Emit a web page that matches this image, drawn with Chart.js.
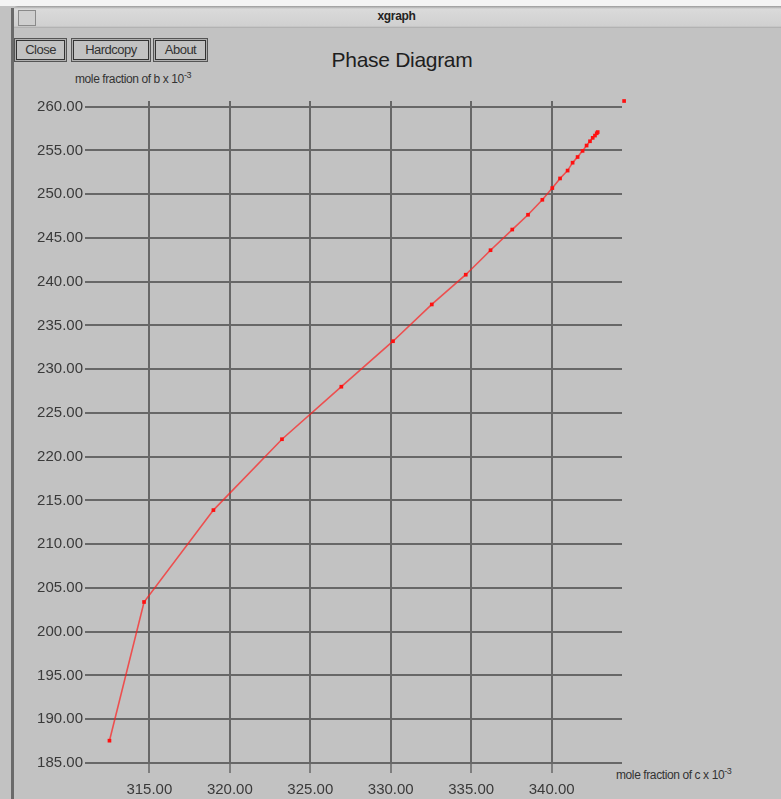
<!DOCTYPE html>
<html>
<head>
<meta charset="utf-8">
<script src="https://cdn.jsdelivr.net/npm/chart.js@4.4.1/dist/chart.umd.min.js"></script>
<style>
  html, body { margin: 0; padding: 0; background: #ffffff; }
  #win {
    position: absolute; left: 0; top: 0; width: 781px; height: 799px;
    background: #c2c2c2; overflow: hidden;
    font-family: "Liberation Sans", Arial, sans-serif;
  }
  #topstrip { position: absolute; left: 0; top: 0; width: 781px; height: 6px; background: #f4f4f4; }
  #titlebar {
    position: absolute; left: 12px; top: 6px; width: 769px; height: 22px;
    background: linear-gradient(#9a9a9a 0px, #dadada 3px, #d0d0d0 20px, #a8a8a8 22px);
    border-top-left-radius: 6px;
  }
  #titlebar .menu {
    position: absolute; left: 6px; top: 4px; width: 16px; height: 14px;
    border: 1px solid #8a8a8a; background: #cfcfcf;
  }
  #titlebar .name {
    position: absolute; left: 0; width: 100%; top: 3px; text-align: center;
    font-size: 12px; font-weight: bold; color: #222; letter-spacing: -0.3px;
  }
  #frame { position: absolute; left: 11px; top: 8px; width: 3px; height: 791px; background: #6a6a6a; }
  .btn {
    position: absolute; top: 38px; height: 22px; line-height: 22px;
    border: 1px solid #555; box-shadow: inset 0 0 0 1px #b0b0b0, inset 0 0 0 2px #333;
    font-size: 13px; color: #333; text-align: center; letter-spacing: -0.5px;
  }
  #ttl { position: absolute; left: 0; width: 804px; top: 48px; text-align: center; font-size: 21px; color: #1e1e1e; letter-spacing: -0.3px; }
  .axlab { position: absolute; font-size: 12px; color: #333; letter-spacing: -0.4px; white-space: nowrap; }
  .axlab sup { font-size: 9px; }
  #chartWrap { position: absolute; left: 0; top: 0; width: 781px; height: 799px; }
</style>
</head>
<body>
<div id="win">
  <div id="topstrip"></div>
  <div id="titlebar"><div class="menu"></div><div class="name">xgraph</div></div>
  <div id="frame"></div>
  <div class="btn" style="left:14px;width:51px;">Close</div>
  <div class="btn" style="left:71px;width:78px;">Hardcopy</div>
  <div class="btn" style="left:153px;width:53px;">About</div>
  <div id="ttl">Phase Diagram</div>
  <div class="axlab" style="left:75px;top:70px;">mole fraction of b x 10<sup>-3</sup></div>
  <div class="axlab" style="left:616px;top:766px;">mole fraction of c x 10<sup>-3</sup></div>
  <div id="chartWrap"><canvas id="phase" width="781" height="799"></canvas></div>
</div>
<script>
// phase boundary
const fracC = [312.52, 314.67, 318.98, 323.24, 326.93, 330.14, 332.55, 334.66, 336.2, 337.55,
  338.53, 339.42, 340.04, 340.52, 340.99, 341.3, 341.61, 341.92, 342.17, 342.38, 342.55,
  342.69, 342.8, 342.86];
const fracB = [187.55, 203.4, 213.9, 222.0, 228.0, 233.2, 237.4, 240.8, 243.6, 245.96,
  247.65, 249.36, 250.7, 251.8, 252.7, 253.6, 254.25, 254.95, 255.56, 256.05, 256.44,
  256.7, 256.96, 257.1];

// stray point in the top right corner
const strayC = [344.5];
const strayB = [260.65];

const xTicks = [315, 320, 325, 330, 335, 340];
const yTicks = [185, 190, 195, 200, 205, 210, 215, 220, 225, 230, 235, 240, 245, 250, 255, 260];

const gridColor = "#676767";
const tickFont = { family: "Liberation Sans", size: 15 };

new Chart(document.getElementById("phase"), {
  type: "scatter",
  data: {
    datasets: [
      {
        data: fracC.map((c, i) => ({ x: c, y: fracB[i] })),
        showLine: true,
        borderColor: "rgba(255, 30, 30, 0.7)",
        borderWidth: 1.6,
        tension: 0,
        pointStyle: "rect",
        pointRadius: 2.6,
        pointBackgroundColor: "#ff1010",
        pointBorderWidth: 0,
      },
      {
        data: strayC.map((c, i) => ({ x: c, y: strayB[i] })),
        pointStyle: "rect",
        pointRadius: 2.6,
        pointBackgroundColor: "#ff1010",
        pointBorderWidth: 0,
        clip: false,
      },
    ],
  },
  options: {
    responsive: false,
    animation: false,
    layout: { padding: { left: 0, top: 101, right: 159, bottom: 0 } },
    plugins: { legend: { display: false }, title: { display: false }, tooltip: { enabled: false } },
    scales: {
      x: {
        type: "linear",
        min: 311.0,
        max: 344.37,
        afterBuildTicks: (axis) => { axis.ticks = xTicks.map((v) => ({ value: v })); },
        afterFit: (axis) => { axis.height = 36; },
        border: { display: false },
        grid: { color: gridColor, lineWidth: 2, drawTicks: true, tickLength: 10, tickColor: gridColor, tickWidth: 1.5 },
        ticks: { color: "#3a3a3a", font: tickFont, padding: 8, maxRotation: 0, callback: (v) => v.toFixed(2) },
      },
      y: {
        type: "linear",
        min: 185,
        max: 260.65,
        afterBuildTicks: (axis) => { axis.ticks = yTicks.map((v) => ({ value: v })); },
        afterFit: (axis) => { axis.width = 85; },
        border: { display: false },
        grid: { color: gridColor, lineWidth: 2, drawTicks: false },
        ticks: { color: "#3a3a3a", font: tickFont, padding: 2, callback: (v) => v.toFixed(2) },
      },
    },
  },
});
</script>
</body>
</html>
